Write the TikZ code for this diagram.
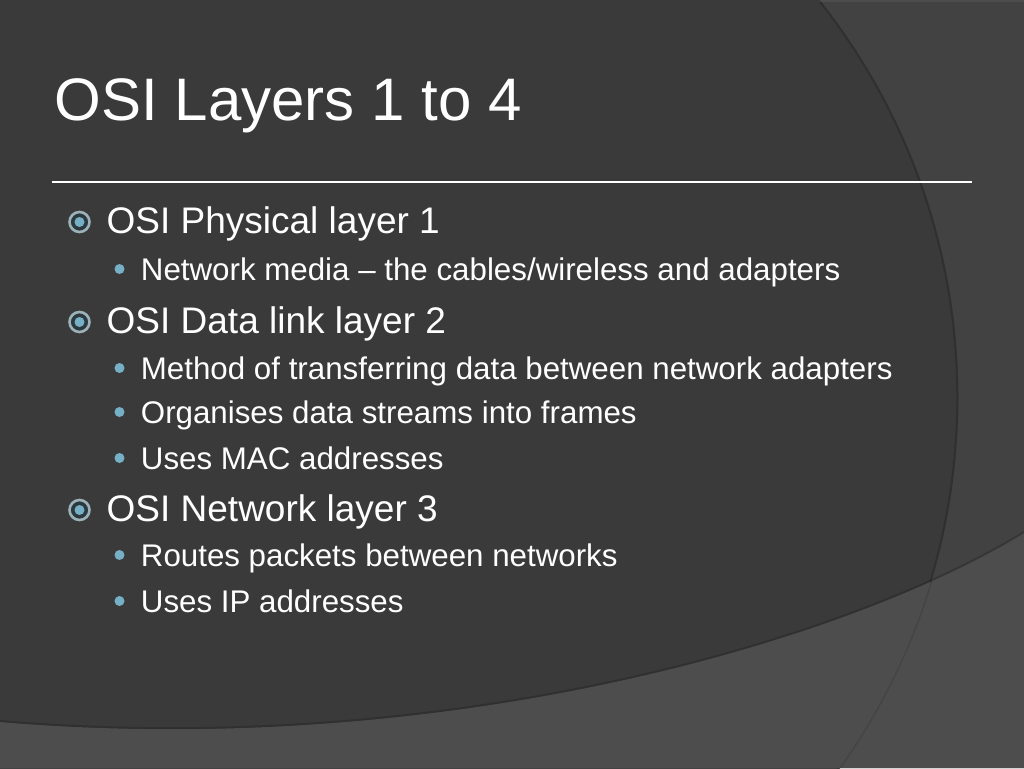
\documentclass[tikz,border=0pt]{standalone}
\usepackage{fontspec}
\setmainfont{Liberation Sans}
\usepackage{tikz}
\usetikzlibrary{positioning}

\definecolor{slidebg}{HTML}{3A3A3A}
\definecolor{rightbg}{HTML}{424242}
\definecolor{bottombg}{HTML}{4D4D4D}
\definecolor{bulletblue}{HTML}{76B0C6}
\definecolor{ringgray}{HTML}{9DB1B9}
\definecolor{ringdark}{HTML}{2C393F}

\begin{document}
\begin{tikzpicture}[
        x=1pt, y=-1pt,
        title/.style={anchor=base west, inner sep=0pt, text=white, font=\fontsize{60}{72}\selectfont},
        lvlone/.style={anchor=base west, inner sep=0pt, text=white, font=\fontsize{37}{44}\selectfont},
        lvltwo/.style={anchor=base west, inner sep=0pt, text=white, font=\fontsize{31.3}{38}\selectfont},
        ringdot/.style={circle, inner sep=0pt, minimum size=20pt, fill=ringdark, draw=ringgray, line width=2.6pt,
            path picture={\fill[bulletblue] (path picture bounding box.center) circle (5);}}, % ring bullet
        subdot/.style={circle, inner sep=0pt, minimum size=10pt, fill=bulletblue}, % small bullet
        shadowline/.style={black, opacity=0.17, line width=2pt}
    ]
    % Background panels
    \useasboundingbox (0,0) rectangle (1024,768);
    \fill[slidebg] (0,0) rectangle (1024,768);
    \begin{scope}
        \clip (0,0) rectangle (1024,768);
        \fill[rightbg, even odd rule] (0,0) rectangle (1024,768) (319.3,397.3) circle (639.2); % right panel
        \draw[shadowline] (319.3,397.3) circle (638);
        \draw[white, opacity=0.06, line width=3pt] (818,1) -- (1024,1);
        \fill[bottombg] (0,722) .. controls (450,760) and (850,640) .. (1024,533) -- (1024,768) -- (0,768) -- cycle; % bottom panel
        \draw[shadowline] (0,721) .. controls (450,759) and (850,639) .. (1024,532);
        \clip (0,722) .. controls (450,760) and (850,640) .. (1024,533) -- (1024,768) -- (0,768) -- cycle;
        \draw[black, opacity=0.1, line width=1.5pt] (319.3,397.3) circle (639.2); % arc through bottom panel
    \end{scope}

    % Title and rule
    \node[title] (slide_title) at (54.5,120) {OSI Layers 1 to 4};
    \coordinate (rule_start) at (52,182);
    \coordinate (rule_end) at (972,182);
    \draw[white, line width=1.4pt] (rule_start) -- (rule_end);

    % Layer 1
    \node[lvlone] (phys_layer) at (106.5,233) {OSI Physical layer 1};
    \node[lvltwo] (phys_media) at (140.7,280) {Network media – the cables/wireless and adapters};

    % Layer 2
    \node[lvlone] (link_layer) at (106.5,333) {OSI Data link layer 2};
    \node[lvltwo] (link_method) at (140.7,379) {Method of transferring data between network adapters};
    \node[lvltwo] (link_frames) at (140.7,423) {Organises data streams into frames};
    \node[lvltwo] (link_mac) at (140.7,469) {Uses MAC addresses};

    % Layer 3
    \node[lvlone] (net_layer) at (106.5,521) {OSI Network layer 3};
    \node[lvltwo] (net_routes) at (140.7,566) {Routes packets between networks};
    \node[lvltwo] (net_ip) at (140.7,612) {Uses IP addresses};

    % Bullets
    \node[ringdot] (phys_ring) at (79.5,222) {};
    \node[ringdot] (link_ring) at (79.5,322) {};
    \node[ringdot] (net_ring) at (79.5,510) {};
    \node[subdot] (media_dot) at (119.5,269) {};
    \node[subdot] (method_dot) at (119.5,368) {};
    \node[subdot] (frames_dot) at (119.5,412) {};
    \node[subdot] (mac_dot) at (119.5,458) {};
    \node[subdot] (routes_dot) at (119.5,555) {};
    \node[subdot] (ip_dot) at (119.5,601) {};
\end{tikzpicture}
\end{document}
